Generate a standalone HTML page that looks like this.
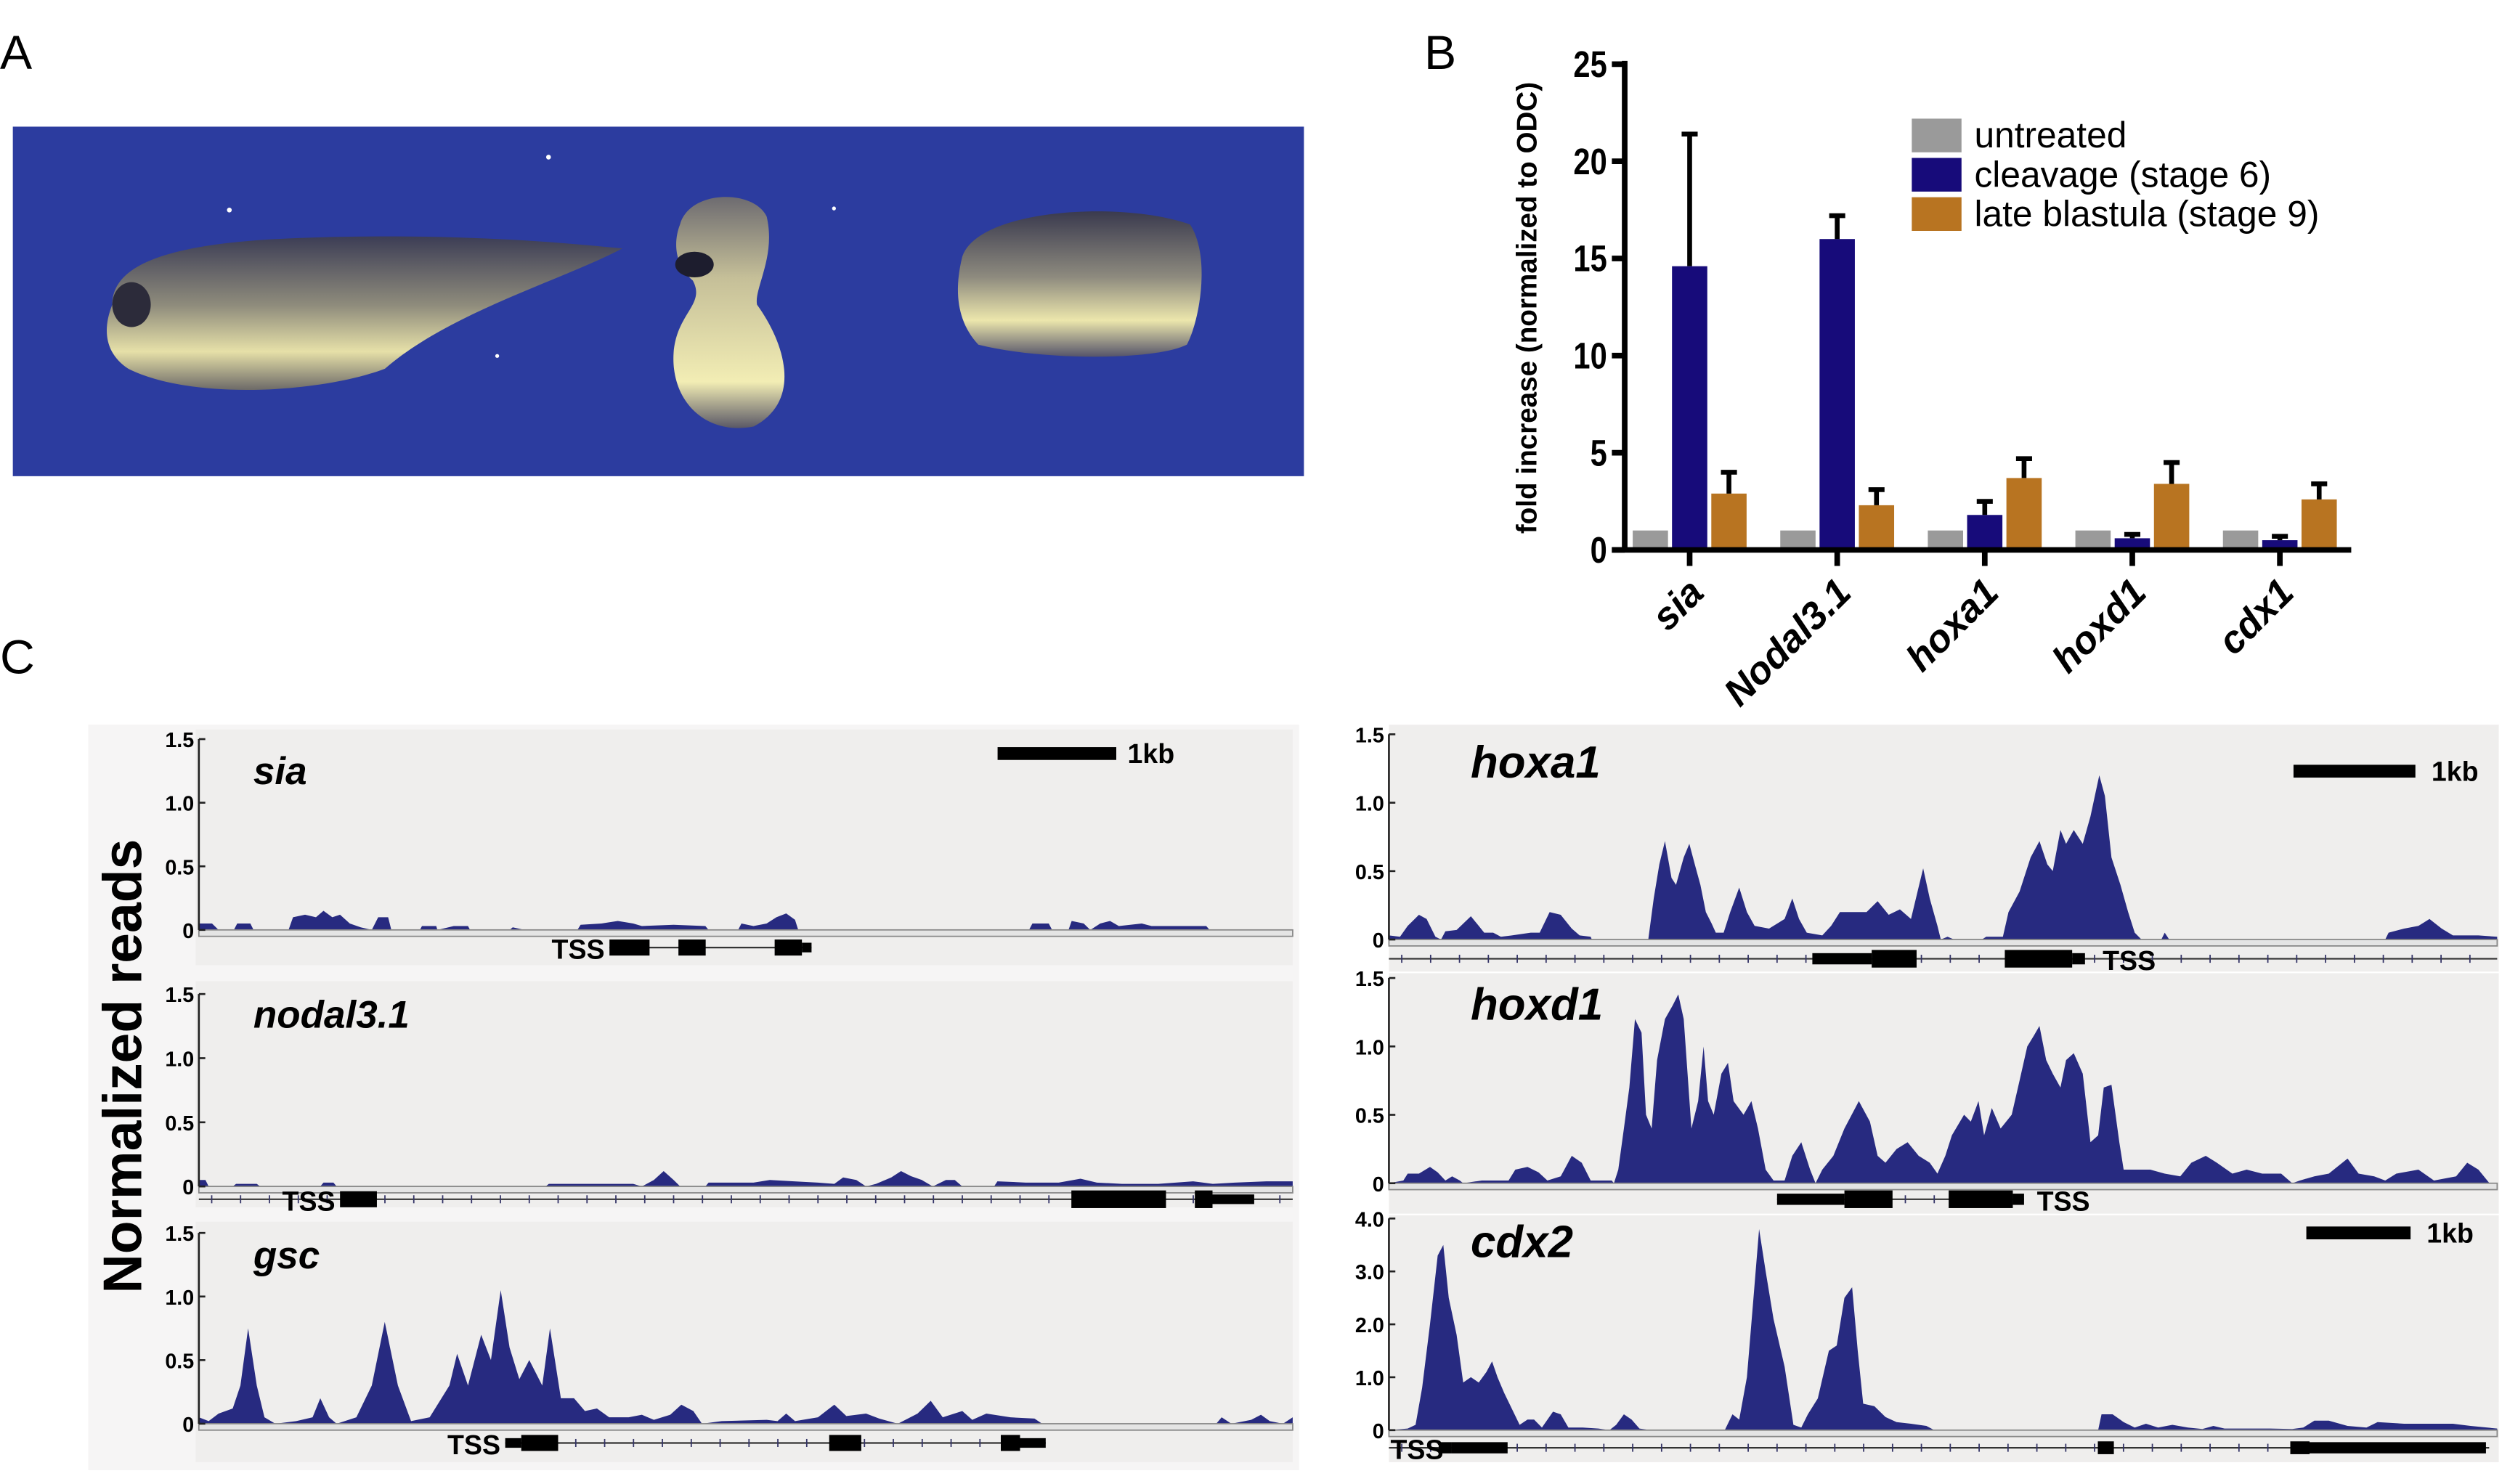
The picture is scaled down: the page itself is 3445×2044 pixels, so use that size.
<!DOCTYPE html>
<html><head><meta charset="utf-8"><style>
html,body{margin:0;padding:0;background:#fff;}
svg{display:block;}
text{font-family:"Liberation Sans",sans-serif;}
</style></head><body>
<svg id="fig" width="3445" height="2044" viewBox="0 0 1560 925.6" preserveAspectRatio="none" xmlns="http://www.w3.org/2000/svg">
<defs>
<linearGradient id="emb" x1="0" y1="0" x2="0" y2="1"><stop offset="0" stop-color="#3c3d55"/><stop offset="0.45" stop-color="#8f8c7c"/><stop offset="0.75" stop-color="#e6e0a8"/><stop offset="1" stop-color="#6d6a68"/></linearGradient>
<linearGradient id="emb2" x1="0" y1="0" x2="0" y2="1"><stop offset="0" stop-color="#6d6b70"/><stop offset="0.35" stop-color="#c5bf98"/><stop offset="0.8" stop-color="#f2edb4"/><stop offset="1" stop-color="#5a5866"/></linearGradient>
<linearGradient id="emb3" x1="0" y1="0" x2="0" y2="1"><stop offset="0" stop-color="#3a3a4e"/><stop offset="0.45" stop-color="#8d8a7e"/><stop offset="0.75" stop-color="#ece6ac"/><stop offset="1" stop-color="#55546a"/></linearGradient>
</defs>
<text x="0" y="43" font-size="30">A</text>
<g>
<rect x="8" y="79" width="805" height="218" fill="#2c3c9f"/>
<ellipse cx="110" cy="220" rx="30" ry="10" fill="#1e2a78" opacity="0.6"/>
<path d="M70,190 C70,160 120,150 200,148 C280,146 340,150 388,155 C350,175 280,195 240,230 C200,245 120,250 80,230 C65,220 64,205 70,190Z" fill="url(#emb)"/>
<ellipse cx="82" cy="190" rx="12" ry="14" fill="#2c2b3a"/>
<path d="M424,140 C430,118 470,118 478,135 C484,160 470,180 472,190 C490,215 500,250 470,266 C440,272 418,250 420,220 C422,195 440,190 432,175 C420,165 420,150 424,140Z" fill="url(#emb2)"/>
<ellipse cx="433" cy="165" rx="12" ry="8" fill="#1d1d2e"/>
<path d="M600,160 C610,130 700,125 742,140 C755,160 748,200 740,215 C720,225 650,225 610,215 C596,200 595,180 600,160Z" fill="url(#emb3)"/>
<circle cx="143" cy="131" r="1.5" fill="#fff"/><circle cx="342" cy="98" r="1.5" fill="#fff"/><circle cx="520" cy="130" r="1.2" fill="#fff"/><circle cx="310" cy="222" r="1.2" fill="#fff"/>
</g>
<text x="888" y="43" font-size="30">B</text>
<g id="barchart"></g>
<text x="0" y="420" font-size="30">C</text>
<rect x="55" y="452" width="755" height="465" fill="#f6f5f5"/>
<text transform="translate(88,665) rotate(-90)" font-size="34" font-weight="bold" text-anchor="middle">Normalized reads</text>
<g id="tracks"></g>
</svg>
<script>
// ---- Panel B data ----
const genes = ["sia","Nodal3.1","hoxa1","hoxd1","cdx1"];
const untreated = [1,1,1,1,1];
const cleavage = [14.6,16.0,1.8,0.6,0.5];
const cleavageErr = [21.4,17.2,2.5,0.8,0.7];
const blastula = [2.9,2.3,3.7,3.4,2.6];
const blastulaErr = [4.0,3.1,4.7,4.5,3.4];
const yTicks = [0,5,10,15,20,25];
const seriesNames = ["untreated","cleavage (stage 6)","late blastula (stage 9)"];

// ---- Panel C data (position = % of window, value = normalized reads) ----
const siaPos = [0,1.2,1.8,3.2,3.5,4.7,5.0,8.2,8.6,9.7,10.7,11.4,12.2,12.9,13.8,14.8,15.8,16.4,17.3,17.6,20.2,20.4,21.7,21.8,23.3,24.6,24.8,28.4,28.7,29.8,34.6,34.9,36.8,38.3,39.7,40.5,43.4,46.3,46.6,49.3,49.6,50.7,51.9,52.8,53.7,54.5,54.8,75.9,76.2,77.7,78.0,79.5,79.8,80.9,81.5,82.4,83.3,84.1,86.2,87.1,89.6,92.1,92.4,100];
const siaVal = [.05,.05,0,0,.05,.05,0,0,.1,.12,.1,.15,.1,.12,.05,.02,0,.1,.1,0,0,.03,.03,0,.03,.03,0,0,.02,0,0,.04,.05,.07,.05,.03,.04,.03,0,0,.05,.03,.05,.1,.13,.08,0,0,.05,.05,0,0,.07,.05,0,.05,.07,.03,.05,.03,.03,.03,0,0];
const nodalPos = [0,.6,.9,3.1,3.4,5.3,5.6,11.1,11.4,12.3,12.6,31.7,32.0,34.6,37.5,39.7,40.5,41.6,42.5,43.4,44.0,46.3,46.6,48.5,50.7,52.2,54.4,56.6,58.1,58.9,60.1,61.0,61.9,63.3,64.2,65.1,66.1,67.1,68.3,69.1,69.8,72.7,73.0,75.6,78.6,80.6,82.1,84.4,87.7,90.9,92.7,94.7,97.6,100];
const nodalVal = [.05,.05,0,0,.02,.02,0,0,.03,.03,0,0,.02,.02,.02,.02,0,.05,.12,.05,0,0,.03,.03,.03,.05,.04,.03,.02,.07,.05,0,.02,.07,.12,.08,.05,0,.05,.05,0,0,.04,.03,.03,.06,.03,.02,.02,.04,.02,.03,.04,.04];
const gscPos = [0,.9,1.8,3.1,3.8,4.5,5.3,6.0,7.0,8.9,10.4,11.1,11.9,12.6,14.4,15.8,17.0,18.2,19.4,21.1,22.9,23.6,24.6,25.8,26.7,27.6,28.4,29.3,30.2,31.4,32.1,33.1,34.3,35.3,36.4,37.5,39.3,40.5,41.6,43.1,44.1,45.2,46.0,47.8,51.9,52.9,53.7,54.5,56.6,58.1,59.2,61.0,62.2,63.9,65.7,66.9,68.0,69.8,70.7,72.0,74.2,76.4,77.1,93.0,93.5,94.4,96.2,97.1,97.9,99.1,100];
const gscVal = [.05,.02,.08,.12,.3,.75,.3,.05,0,.02,.05,.2,.05,0,.05,.3,.8,.3,.02,.05,.3,.55,.3,.7,.5,1.05,.6,.35,.5,.3,.75,.2,.2,.1,.12,.05,.05,.07,.03,.07,.15,.1,0,.02,.03,.02,.08,.02,.05,.15,.06,.08,.04,0,.08,.18,.05,.1,.03,.08,.05,.04,0,0,.05,0,.03,.07,.02,0,.05];
const hoxa1Pos = [0,1.0,1.7,2.7,3.4,4.2,4.7,5.1,6.1,7.4,8.1,8.6,9.4,10.1,11.1,12.8,13.6,14.5,15.5,16.5,17.2,18.2,18.3,23.4,23.9,24.4,24.9,25.5,25.9,26.6,27.1,27.6,28.1,28.6,29.1,29.5,30.2,30.8,31.6,32.3,33.0,34.3,35.7,36.4,37.0,37.7,39.1,39.9,40.7,41.8,43.1,44.1,45.1,46.1,47.1,47.7,48.2,48.8,49.5,49.8,50.4,51.0,53.5,53.9,55.4,55.9,56.9,57.9,58.7,59.4,59.9,60.6,61.1,61.8,62.6,63.3,64.1,64.6,65.2,66.0,66.7,67.3,67.9,69.7,70.0,70.4,89.9,90.2,91.6,92.9,93.9,95.0,96.0,97.0,98.3,100];
const hoxa1Val = [.03,.02,.1,.18,.15,.02,0,.06,.07,.17,.1,.05,.05,.02,.03,.05,.05,.2,.18,.08,.03,.02,0,0,.3,.55,.72,.45,.4,.6,.7,.55,.4,.2,.12,.05,.05,.2,.38,.2,.1,.08,.15,.3,.15,.05,.03,.1,.2,.2,.2,.28,.18,.22,.15,.35,.52,.3,.1,0,.02,0,0,.02,.02,.2,.35,.6,.72,.55,.5,.8,.7,.8,.7,.9,1.2,1.05,.6,.4,.2,.05,0,0,.05,0,0,.05,.08,.1,.15,.08,.03,.03,.03,.02];
const hoxd1Pos = [0,1.3,1.7,2.7,3.7,4.4,5.1,5.7,6.4,6.7,8.4,10.8,11.4,12.5,13.5,14.3,15.5,16.5,17.4,18.2,19.2,20.1,20.3,20.7,21.2,21.7,22.2,22.8,23.2,23.7,24.2,24.9,25.6,26.1,26.6,27.3,27.9,28.4,28.8,29.3,30.0,30.6,31.1,32.0,32.7,33.3,34.0,34.7,35.7,36.4,37.2,38.0,38.5,39.1,40.1,41.1,42.4,43.4,44.1,44.8,45.8,46.8,47.8,48.8,49.5,50.2,50.8,51.9,52.5,53.2,53.7,54.4,55.2,56.2,56.9,57.6,58.2,58.7,59.3,59.9,60.6,61.1,61.8,62.6,63.3,64.0,64.5,65.2,65.9,66.3,67.3,68.7,70.0,71.4,72.4,73.7,74.7,76.1,77.4,78.8,80.5,81.5,82.2,83.5,84.8,86.5,87.5,88.9,89.9,90.9,92.9,94.3,96.3,97.3,98.3,99.3,100];
const hoxd1Val = [0,.02,.07,.07,.12,.08,.02,.05,.02,0,.02,.02,.1,.12,.08,.02,.05,.2,.15,.02,.02,.02,0,.1,.4,.7,1.2,1.1,.5,.4,.9,1.2,1.3,1.38,1.2,.4,.6,1.0,.6,.5,.8,.88,.6,.5,.6,.4,.1,.02,.02,.2,.3,.1,0,.1,.2,.4,.6,.45,.2,.15,.25,.3,.2,.15,.07,.2,.35,.5,.45,.6,.35,.55,.4,.5,.75,1.0,1.08,1.15,.9,.8,.7,.9,.95,.8,.3,.35,.7,.72,.3,.1,.1,.1,.07,.05,.15,.2,.15,.07,.1,.07,.07,0,.02,.05,.07,.18,.07,.05,.02,.07,.1,.02,.05,.15,.1,0,0];
const cdx2Pos = [0,1.7,2.4,3.0,3.7,4.4,4.9,5.4,6.1,6.7,7.4,8.1,8.8,9.3,9.8,10.4,11.1,11.8,12.5,13.1,13.8,14.8,15.5,16.2,17.5,18.9,19.9,20.5,21.2,21.9,22.6,23.6,30.3,31.0,31.6,32.3,32.9,33.4,34.0,34.7,35.7,36.5,37.2,37.8,38.7,39.7,40.4,41.1,41.8,42.3,42.8,43.8,44.8,45.8,47.1,48.5,49.2,64.0,64.3,65.3,66.3,67.3,68.3,69.4,70.7,72.1,73.4,74.4,75.4,76.8,79.5,81.5,82.5,83.5,84.8,86.5,88.2,89.2,91.6,93.6,96.0,97.6,100];
const cdx2Val = [0,.03,.1,.8,2.0,3.3,3.5,2.5,1.8,.9,1.0,.9,1.1,1.3,1.0,.7,.4,.1,.2,.2,.05,.35,.3,.05,.05,.03,0,.1,.3,.2,.03,0,0,.3,.2,1.0,2.5,3.8,3.0,2.1,1.2,.1,.05,.3,.6,1.5,1.6,2.5,2.7,1.5,.5,.45,.25,.15,.12,.08,0,0,.3,.3,.15,.05,.12,.05,.1,.05,.02,.08,.03,.03,.03,.02,.05,.18,.18,.08,.05,.15,.12,.12,.12,.08,.03];

const NS = "http://www.w3.org/2000/svg";
function mk(tag, attrs, parent){const e=document.createElementNS(NS,tag);for(const k in attrs)e.setAttribute(k,attrs[k]);parent.appendChild(e);return e;}

// ---- bar chart ----
(function(){
 const g=document.getElementById('barchart');
 const x0=1013, yTop=40, yBot=343, yMax=25;
 const y=v=>yBot-(v/yMax)*(yBot-yTop);
 const groupX=i=>1018+i*92;
 const colors=["#9a9a9a","#170b7a","#b87421"];
 const offs=[0,24.5,49], bw=22;
 const all=[untreated,cleavage,blastula], errs=[null,cleavageErr,blastulaErr];
 all.forEach((ser,s)=>ser.forEach((v,i)=>{
   const r=mk('rect',{x:groupX(i)+offs[s],y:y(v),width:bw,height:yBot-y(v),fill:colors[s]},g);
   
   
   if(errs[s]){const cx=groupX(i)+offs[s]+bw/2;
     const l=mk('path',{d:`M${cx},${y(v)}V${y(errs[s][i])}M${cx-5},${y(errs[s][i])}H${cx+5}`,stroke:'#000','stroke-width':3,fill:'none'},g);
     
     }
 }));
 const ax=mk('path',{d:`M${x0},${yTop-2}V${yBot}M1005,${yBot}H1466`,stroke:'#000','stroke-width':3.5,fill:'none'},g);
 
 
 yTicks.forEach(t=>{
   mk('path',{d:`M${x0-8},${y(t)}H${x0}`,stroke:'#000','stroke-width':3.5},g);
   const tx=mk('text',{x:x0-11,y:y(t)+8,'font-size':23,'font-weight':'bold','text-anchor':'end',transform:`translate(${(x0-11)*0.18},0) scale(0.82,1)`},g);
   tx.textContent=t;
   
   
 });
 genes.forEach((n,i)=>{
   const cx=groupX(i)+offs[1]+bw/2;
   mk('path',{d:`M${cx},${yBot}V${yBot+10}`,stroke:'#000','stroke-width':3.5},g);
   const tx=mk('text',{x:0,y:0,'font-size':24,'font-weight':'bold','font-style':'italic','text-anchor':'end',transform:`translate(${cx+10},${yBot+28}) rotate(-45)`},g);
   tx.textContent=n;
   
   
 });
 const yt=mk('text',{x:0,y:0,'font-size':17.5,'font-weight':'bold','text-anchor':'middle',transform:'translate(958,192) rotate(-90)'},g);
 yt.textContent="fold increase (normalized to ODC)";
 
 
 seriesNames.forEach((n,s)=>{
   const r=mk('rect',{x:1192,y:74+s*24.5,width:31,height:21,fill:colors[s]},g);
   
   
   const t=mk('text',{x:1231,y:92+s*24.5,'font-size':22.5},g);
   t.textContent=n;
   
   
 });
})();

// ---- tracks ----
const tracks=[
 {name:"sia",pos:siaPos,val:siaVal,x0:124,x1:806,yTop:461,y0:580,max:1.5,ticks:["1.5","1.0","0.5","0"],bg:[122,455,684,147],lab:[158,489,24],
  gene:{y:591,line:[380,506],blocks:[[380,405,10],[423,440,10],[483,500,10],[500,506,6]],tss:377,ticksOn:false}},
 {name:"nodal3.1",pos:nodalPos,val:nodalVal,x0:124,x1:806,yTop:620,y0:740,max:1.5,ticks:["1.5","1.0","0.5","0"],bg:[122,612,684,141],lab:[158,641,24],
  gene:{y:748,line:[124,806],blocks:[[212,235,10],[668,727,11],[745,756,11],[756,782,6]],tss:209,ticksOn:true}},
 {name:"gsc",pos:gscPos,val:gscVal,x0:124,x1:806,yTop:769,y0:888,max:1.5,ticks:["1.5","1.0","0.5","0"],bg:[122,762,684,150],lab:[158,791,24],
  gene:{y:900,line:[315,652],blocks:[[315,325,6],[325,348,10],[517,537,10],[624,636,10],[636,652,6]],tss:312,ticksOn:true}},
 {name:"hoxa1",pos:hoxa1Pos,val:hoxa1Val,x0:866,x1:1557,yTop:458,y0:586,max:1.5,ticks:["1.5","1.0","0.5","0"],bg:[866,452,692,154],lab:[917,485,28],
  gene:{y:598,line:[866,1557],blocks:[[1130,1167,7],[1167,1195,11],[1250,1292,11],[1292,1300,7]],tssLeft:1311,ticksOn:true}},
 {name:"hoxd1",pos:hoxd1Pos,val:hoxd1Val,x0:866,x1:1557,yTop:610,y0:738,max:1.5,ticks:["1.5","1.0","0.5","0"],bg:[866,607,692,150],lab:[917,636,28],
  gene:{y:748,line:[1108,1262],blocks:[[1108,1150,7],[1150,1180,11],[1215,1255,11],[1255,1262,7]],tssLeft:1270,ticksOn:true}},
 {name:"cdx2",pos:cdx2Pos,val:cdx2Val,x0:866,x1:1557,yTop:760,y0:892,max:4.0,ticks:["4.0","3.0","2.0","1.0","0"],bg:[866,758,692,154],lab:[917,784,28],
  gene:{y:903,line:[866,1552],blocks:[[897,905,7],[905,940,7],[1308,1318,8],[1428,1440,8],[1440,1550,7]],tss:900,ticksOn:true}}
];
(function(){
 const g=document.getElementById('tracks');
 tracks.forEach(t=>{
   const tg=mk('g',{},g);
   
   
   const b=t.bg;
   mk('rect',{x:b[0],y:b[1],width:b[2],height:b[3],fill:'#efeeed'},tg);
   const X=p=>t.x0+p/100*(t.x1-t.x0);
   const Y=v=>t.y0-v/t.max*(t.y0-t.yTop);
   let d=`M${X(t.pos[0])},${t.y0}`;
   t.pos.forEach((p,i)=>{d+=`L${X(p).toFixed(1)},${Y(t.val[i]).toFixed(1)}`;});
   d+=`L${X(t.pos[t.pos.length-1])},${t.y0}Z`;
   const a=mk('path',{d:d,fill:'#272a80'},tg);
   
   
   mk('rect',{x:t.x0,y:t.y0,width:t.x1-t.x0,height:4,fill:'#e4e4e4',stroke:'#888','stroke-width':0.8},tg);
   mk('path',{d:`M${t.x0},${t.yTop}V${t.y0}`,stroke:'#222','stroke-width':1.2,fill:'none'},tg);
   t.ticks.forEach((s,i)=>{
     const yy=t.yTop+i/(t.ticks.length-1)*(t.y0-t.yTop);
     mk('path',{d:`M${t.x0},${yy}H${t.x0+4}`,stroke:'#222','stroke-width':1.2},tg);
     const tx=mk('text',{x:t.x0-3,y:yy+5,'font-size':13,'font-weight':'bold','text-anchor':'end'},tg);
     tx.textContent=s;
     
     
   });
   const lb=mk('text',{x:t.lab[0],y:t.lab[1],'font-size':t.lab[2],'font-weight':'bold','font-style':'italic'},tg);
   lb.textContent=t.name;
   
   
   const gm=t.gene;
   mk('path',{d:`M${gm.line[0]},${gm.y}H${gm.line[1]}`,stroke:'#333','stroke-width':1},tg);
   if(gm.ticksOn){for(let xx=gm.line[0]+8;xx<gm.line[1];xx+=18)mk('path',{d:`M${xx},${gm.y-2.5}V${gm.y+2.5}`,stroke:'#336','stroke-width':0.8},tg);}
   gm.blocks.forEach(bk=>mk('rect',{x:bk[0],y:gm.y-bk[2]/2,width:bk[1]-bk[0],height:bk[2],fill:'#000'},tg));
   const tss=mk('text',{'font-size':17,'font-weight':'bold'},tg);
   if(gm.tssLeft!==undefined){tss.setAttribute('x',gm.tssLeft);}else{tss.setAttribute('x',gm.tss);tss.setAttribute('text-anchor','end');}
   tss.setAttribute('y',gm.y+7);
   tss.textContent="TSS";
   
   
 });
 const bars=[[622,470,696,703,17],[1430,481,1506,1516,17],[1438,769,1503,1513,17]];
 bars.forEach(s=>{
   const r=mk('rect',{x:s[0],y:s[1]-4,width:s[2]-s[0],height:8,fill:'#000'},g);
   
   
   const t=mk('text',{x:s[3],y:s[1]+6,'font-size':s[4],'font-weight':'bold'},g);
   t.textContent="1kb";
   
   
 });
})();
</script>
</body></html>
